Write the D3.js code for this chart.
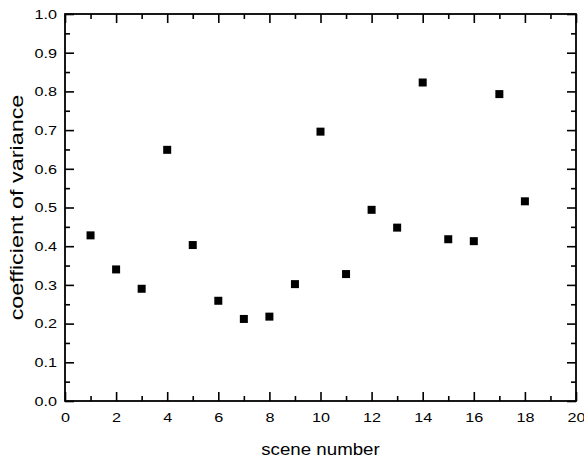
<!DOCTYPE html>
<html>
<head>
<meta charset="utf-8">
<script src="https://cdn.jsdelivr.net/npm/d3@7"></script>
<style>
  html, body { margin: 0; padding: 0; background: #fff; }
  svg { display: block; }
  text { font-family: "Liberation Sans", Arial, sans-serif; fill: #000; }
</style>
</head>
<body>
<svg id="chart" width="584" height="460"></svg>
<script>
// Scene numbers and their coefficient of variance
const scenes = [1, 2, 3, 4, 5, 6, 7, 8, 9, 10, 11, 12, 13, 14, 15, 16, 17, 18];
const cvValues = [0.428, 0.340, 0.290, 0.649, 0.403, 0.259, 0.212, 0.218, 0.302,
                  0.696, 0.328, 0.494, 0.448, 0.823, 0.418, 0.413, 0.793, 0.516];
const xTicks = [0, 2, 4, 6, 8, 10, 12, 14, 16, 18, 20];
const yTicks = [0.0, 0.1, 0.2, 0.3, 0.4, 0.5, 0.6, 0.7, 0.8, 0.9, 1.0];
const xMinor = [1, 3, 5, 7, 9, 11, 13, 15, 17, 19];
const yMinor = [0.05, 0.15, 0.25, 0.35, 0.45, 0.55, 0.65, 0.75, 0.85, 0.95];

const svg = d3.select("#chart");
const plotL = 65, plotR = 576, plotT = 14, plotB = 401;

const x = d3.scaleLinear().domain([0, 20]).range([plotL, plotR]);
const y = d3.scaleLinear().domain([0, 1]).range([plotB, plotT]);

const MAJ = 9, MIN = 5;
const WIDEN = 1.2; // labels are set slightly wide

// Bottom axis: labels + inward ticks
const bottomAxis = svg.append("g").attr("transform", `translate(0,${plotB})`)
  .call(d3.axisBottom(x).tickValues(xTicks).tickSize(-MAJ).tickPadding(11).tickFormat(d3.format("d")));
bottomAxis.append("g").call(d3.axisBottom(x).tickValues(xMinor).tickSize(-MIN).tickFormat(""));

// Top axis: ticks only
const topAxis = svg.append("g").attr("transform", `translate(0,${plotT})`)
  .call(d3.axisTop(x).tickValues(xTicks).tickSize(-MAJ).tickFormat(""));
topAxis.append("g").call(d3.axisTop(x).tickValues(xMinor).tickSize(-MIN).tickFormat(""));

// Left axis: labels + inward ticks
const leftAxis = svg.append("g").attr("transform", `translate(${plotL},0)`)
  .call(d3.axisLeft(y).tickValues(yTicks).tickSize(-MAJ).tickFormat(d3.format(".1f")));
leftAxis.append("g").call(d3.axisLeft(y).tickValues(yMinor).tickSize(-MIN).tickFormat(""));

// Right axis: ticks only
const rightAxis = svg.append("g").attr("transform", `translate(${plotR},0)`)
  .call(d3.axisRight(y).tickValues(yTicks).tickSize(-MAJ).tickFormat(""));
rightAxis.append("g").call(d3.axisRight(y).tickValues(yMinor).tickSize(-MIN).tickFormat(""));

svg.selectAll(".domain").remove();
svg.selectAll(".tick line").attr("stroke", "#000").attr("stroke-width", 1.6);
svg.selectAll(".tick text")
  .attr("font-size", 13.5)
  .attr("font-family", "Liberation Sans, Arial, sans-serif")
  .attr("fill", "#000")
  .attr("transform", `scale(${WIDEN},1)`);
// keep the y labels' right edge 8px left of the frame after widening
leftAxis.selectAll(".tick text").attr("x", -8 / WIDEN);

// Plot frame
svg.append("rect")
  .attr("x", plotL).attr("y", plotT)
  .attr("width", plotR - plotL).attr("height", plotB - plotT)
  .attr("fill", "none").attr("stroke", "#000").attr("stroke-width", 1.8);

// Square markers
const sz = 8;
svg.append("g").selectAll("rect")
  .data(scenes.map((s, i) => ({ s, v: cvValues[i] })))
  .join("rect")
  .attr("x", d => x(d.s) - sz / 2)
  .attr("y", d => y(d.v) - sz / 2)
  .attr("width", sz).attr("height", sz)
  .attr("fill", "#000");

// Axis titles
svg.append("text")
  .attr("transform", `translate(${(plotL + plotR) / 2},455) scale(1.1,1)`)
  .attr("text-anchor", "middle").attr("font-size", 17)
  .text("scene number");

svg.append("text")
  .attr("transform", `translate(23,${(plotT + plotB) / 2}) rotate(-90) scale(1.3,1)`)
  .attr("text-anchor", "middle").attr("font-size", 18)
  .text("coefficient of variance");
</script>
</body>
</html>
